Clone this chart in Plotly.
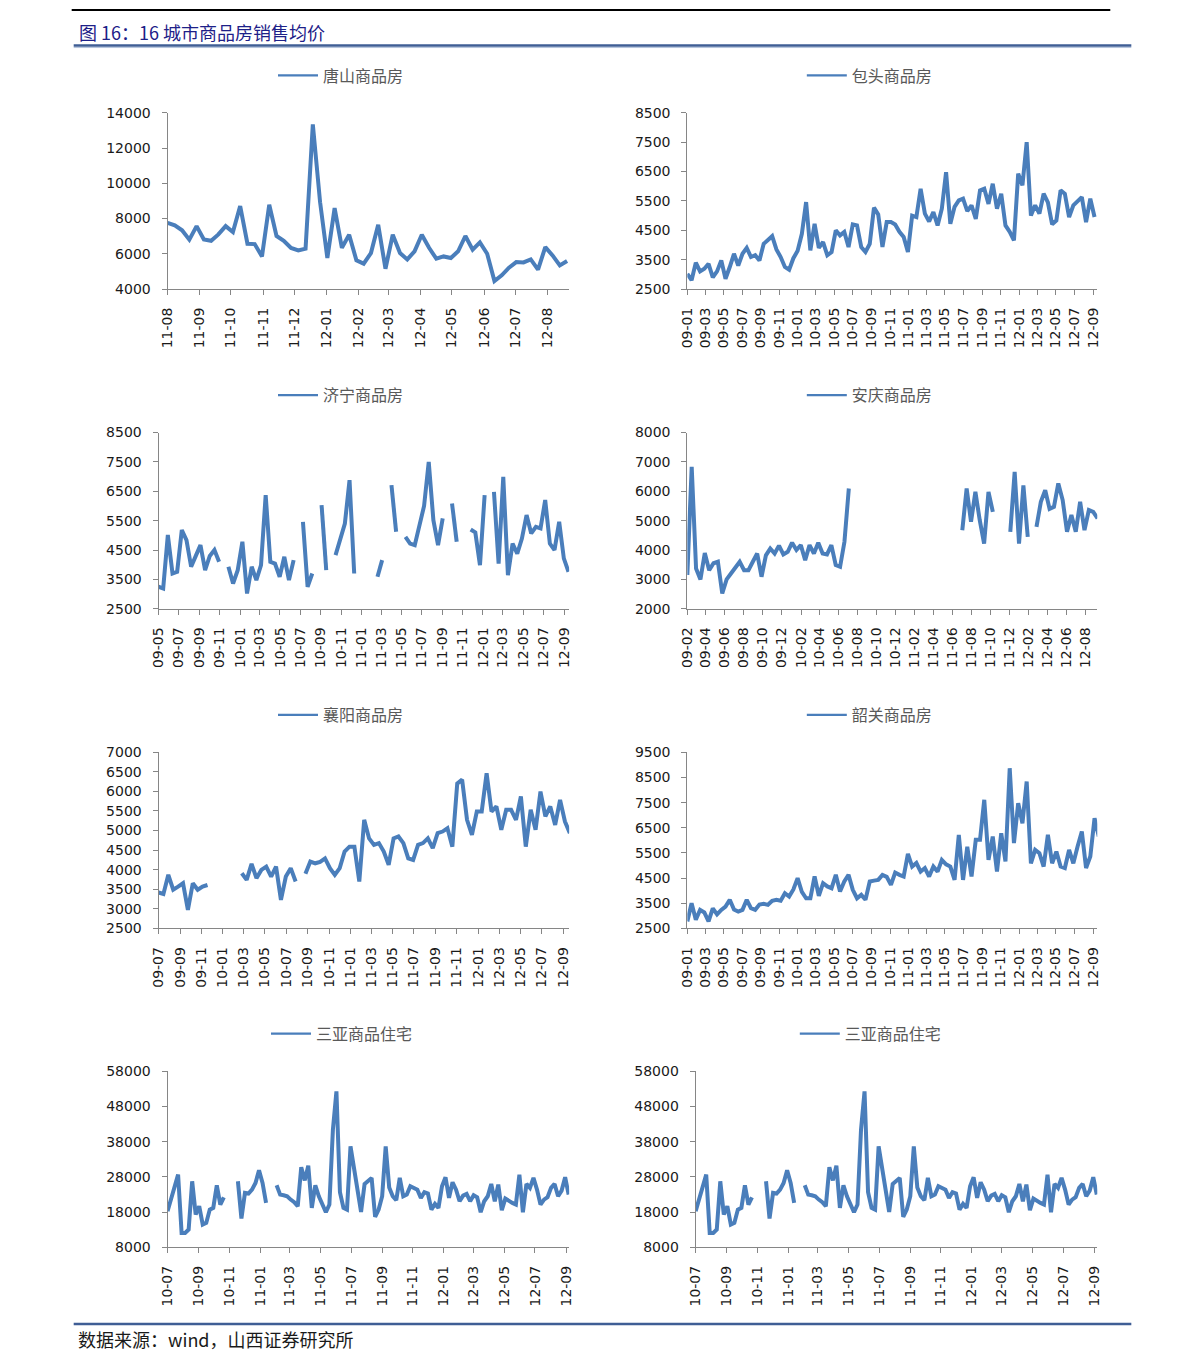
import pandas as pd
import plotly.graph_objects as go

# average selling price of commercial housing (yuan / m2)
# weekly series for 唐山 and 三亚, two-week samples for the longer series; None = no data
tangshan = [7760, 7610, 7330, 6800, 7570, 6820, 6740, 7100, 7570, 7230, 8710, 6570, 6550, 5850,
            8780, 7010, 6740, 6330, 6190, 6290, 13340, 8930, 5760, 8590, 6340, 7080, 5630, 5440,
            6040, 7650, 5150, 7080, 6040, 5680, 6140, 7080, 6340, 5720, 5850, 5760, 6140, 7010,
            6230, 6650, 6000, 4450, 4780, 5210, 5530, 5510, 5680, 5100, 6380, 5910, 5340, 5590]

baotou = [3020, 2800, 3400, 3100, 3190, 3360, 2900, 3100, 3475, 2850, 3250, 3700, 3300, 3700,
          3900, 3590, 3650, 3475, 4040, 4155, 4300, 3850, 3590, 3250, 3160, 3550, 3800, 4380,
          5460, 3815, 4720, 3900, 4100, 3650, 3760, 4500, 4325, 4440, 3930, 4700, 4665, 3930,
          3760, 4040, 5270, 5040, 3930, 4780, 4780, 4700, 4450, 4270, 3760, 5000, 4950, 5915,
          5065, 4800, 5120, 4665, 5235, 6480, 4720, 5300, 5515, 5575, 5150, 5350, 4890, 5860,
          5915, 5400, 6085, 5235, 5745, 4665, 4450, 4155, 6425, 6030, 7500, 5000, 5350, 5065,
          5745, 5450, 4700, 4835, 5860, 5745, 4950, 5350, 5515, 5630, 4780, 5575, 4950]

jining = [3250, 3190, 5010, 3700, 3760, 5180, 4835, 3930, 4300, 4665, 3815, 4300, 4500, 4100,
          None, 3930, 3360, 3815, 4780, 3020, 3930, 3475, 3985, 6370, 4100, 4040, 3590, 4270,
          3475, 4155, None, 5460, 3250, 3700, None, 6030, 3815, None, 4325, 4850, 5400, 6880,
          3700, None, None, None, None, 3590, 4155, None, 6710, 5120, None, 4950, 4720, 4665,
          5400, 6000, 7500, 5515, 4665, 5575, None, 6085, 4780, None, None, 5200, 5100, 3985,
          6370, None, 6480, 4040, 6990, 3645, 4720, 4380, 4890, 5690, 5065, 5290, 5235, 6200,
          4720, 4500, 5460, 4215, 3760]

anqing = [3150, 6830, 3370, 3000, 3900, 3315, 3550, 3600, 2520, 3000, 3200, 3400, 3600, 3315,
          3315, 3600, 3880, 3090, 3820, 4050, 3880, 4150, 3850, 3940, 4250, 4000, 4165, 3655,
          4165, 3880, 4250, 3880, 3850, 4165, 3490, 3430, 4280, 6095,
          None, None, None, None, None, None, None, None, None, None, None, None, None,
          None, None, None, None, None, None, None, None, None, None, None, None,
          4675, 6095, 4960, 5980, 5015, 4220, 5980, 5300, None, None, None, 4620, 6660, 4220,
          6200, 4450, None, 4790, 5640, 6040, 5400, 5470, 6265, 5700, 4620, 5190, 4620, 5640,
          4675, 5360, 5300, 5075]

xiangyang = [3420, 3380, 3870, 3490, 3570, 3655, 2975, 3655, 3490, 3570, 3610,
             None, None, None, None, None, None,
             3910, 3740, 4150, 3785, 3995, 4080, 3825, 4080, 3230, 3825, 4040, 3700, None,
             3900, 4210, 4165, 4200, 4290, 4040, 3870, 4040, 4465, 4590, 4590, 3700, 5275, 4800,
             4635, 4680, 4465, 4125, 4800, 4850, 4680, 4290, 4250, 4635, 4680, 4800, 4550, 4935,
             4975, 5060, 4590, 6200, 6300, 5275, 4890, 5485, 5485, 6465, 5485, 5615, 5020, 5530,
             5530, 5275, 5870, 4590, 5530, 5020, 5995, 5360, 5615, 5145, 5785, 5230, 4935]

shaoguan = [2780, 3500, 2850, 3240, 3135, 2780, 3300, 3060, 3240, 3370, 3640, 3250, 3175, 3240,
            3640, 3310, 3240, 3450, 3480, 3440, 3600, 3640, 3600, 3900, 3770, 4050, 4500, 3950,
            3700, 3700, 4565, 3800, 4300, 4170, 4100, 4630, 3970, 4365, 4630, 4035, 3700, 3835,
            3640, 4365, 4400, 4430, 4630, 4550, 4230, 4720, 4630, 4565, 5465, 4960, 5100, 4760,
            4900, 4565, 4960, 4760, 5225, 5050, 4960, 4430, 6220, 4430, 5750, 4565, 6020, 6020,
            7610, 5225, 6150, 4760, 6285, 5160, 8865, 5890, 7475, 6680, 8335, 5090, 5620, 5490,
            4960, 6220, 5090, 5555, 4960, 4900, 5620, 5090, 5755, 6350, 4900, 5360, 6880, 6150]

sanya = [18230, 21540, 24860, 28640, 12070, 12070, 13020, 26750, 17280, 19650, 14440, 14910,
         18700, 19170, 25610, 20120, 22200, None, None, None, 26750, 16140, 23440, 23250,
         24380, 26280, 29880, 26280, 20600, None, None, 25610, 22960, 22770, 22500, 21540,
         20780, 19650, 30730, 27000, 31210, 19170, 25610, 22490, 20000, 17940, 20120, 41430,
         52320, 23630, 19170, 18700, 36690, 30540, 23440, 18040, 25990, 26940, 27700, 16620,
         18700, 22500, 36690, 25000, 22500, 21350, 27700, 22490, 22960, 25330, 24860, 24380,
         22020, 23630, 23250, 18700, 20310, 19170, 25330, 27890, 22020, 26470, 24380, 21070,
         22680, 23150, 21070, 22770, 22200, 17940, 21070, 22490, 25990, 21070, 25800, 18510,
         21820, 21070, 20600, 20120, 28640, 17940, 25990, 24860, 27700, 24380, 20120, 21540,
         22200, 24860, 25990, 22490, 24100, 27890, 22960]

names = ["唐山商品房", "包头商品房", "济宁商品房", "安庆商品房",
         "襄阳商品房", "韶关商品房", "三亚商品住宅", "三亚商品住宅"]
series = [tangshan, baotou, jining, anqing, xiangyang, shaoguan, sanya, sanya]
starts = ["2011-08-01", "2009-01-01", "2009-05-01", "2009-02-01",
          "2009-07-01", "2009-01-01", "2010-07-01", "2010-07-01"]
steps = ["7D", "14D", "14D", "14D", "14D", "14D", "7D", "7D"]
x_ends = ["2012-08-22", "2012-09-15", "2012-09-16", "2012-09-08",
          "2012-09-17", "2012-09-15", "2012-09-07", "2012-09-07"]
x_dticks = ["M1", "M2", "M2", "M2", "M2", "M2", "M2", "M2"]
y_ranges = [(4000, 14000, 2000), (2500, 8500, 1000), (2500, 8500, 1000), (2000, 8000, 1000),
            (2500, 7000, 500), (2500, 9500, 1000), (8000, 58000, 10000), (8000, 58000, 10000)]

W, H = 1191, 1370
# the snapshot shows the page slightly shrunk about its centre; pre-compensate
SX, SY = 1191 / 1206, 1370 / 1385
BLUE = "#4A7EBB"
AXIS = "#868686"
CJK = "Noto Sans CJK SC"

# plot areas in reference pixels: left, right, top, bottom
boxes = [(166.7, 567.7, 112.3, 288.7), (685.7, 1095, 112.3, 288.7),
         (157.7, 567.7, 432.3, 608.7), (685.7, 1095, 432.3, 608.7),
         (157.7, 567.7, 752.3, 928.7), (685.7, 1095, 752.3, 928.7),
         (166.7, 567.7, 1071.7, 1247.7), (694, 1095, 1071.7, 1247.7)]
# legend line start (px) and legend row centre (px)
legend_pos = [(280, 75), (808, 75), (280, 395), (808, 395),
              (280, 715), (808, 715), (273, 1034), (801, 1034)]


def px(x):
    return (W / 2 + (x - W / 2) / SX) / W


def py(y):
    return 1 - (H / 2 + (y - H / 2) / SY) / H


fig = go.Figure()
layout = dict(width=W, height=H, margin=dict(l=0, r=0, t=0, b=0),
              paper_bgcolor="white", plot_bgcolor="white", showlegend=True)

for i in range(8):
    n = i + 1
    xa = "x" if n == 1 else f"x{n}"
    ya = "y" if n == 1 else f"y{n}"
    lg = "legend" if n == 1 else f"legend{n}"
    dates = pd.date_range(starts[i], periods=len(series[i]), freq=steps[i])
    fig.add_trace(go.Scatter(x=dates, y=series[i], mode="lines", xaxis=xa, yaxis=ya,
                             line=dict(color=BLUE, width=4), showlegend=False,
                             connectgaps=False, hoverinfo="skip"))
    fig.add_trace(go.Scatter(x=[None], y=[None], mode="lines", xaxis=xa, yaxis=ya,
                             line=dict(color=BLUE, width=2.2), name=names[i], legend=lg))
    l, r, t, b = boxes[i]
    y0, y1, ydt = y_ranges[i]
    layout["xaxis" if n == 1 else f"xaxis{n}"] = dict(
        domain=[px(l), px(r)], anchor=ya, type="date",
        range=[starts[i], x_ends[i]], tick0=starts[i], dtick=x_dticks[i],
        tickformat="%y-%m", tickangle=-90, ticks="outside", ticklen=5,
        tickcolor=AXIS, showline=True, linecolor=AXIS, linewidth=1,
        showgrid=False, zeroline=False, ticklabelstandoff=7,
        tickfont=dict(family="DejaVu Sans", size=14, color="#1a1a1a"))
    layout["yaxis" if n == 1 else f"yaxis{n}"] = dict(
        domain=[py(b), py(t)], anchor=xa, range=[y0, y1], dtick=ydt, tick0=y0,
        tickformat="d", ticks="outside", ticklen=5, tickcolor=AXIS,
        showline=True, linecolor=AXIS, linewidth=1, showgrid=False, zeroline=False,
        ticklabelstandoff=8,
        tickfont=dict(family="DejaVu Sans", size=14, color="#1a1a1a"))
    lx, ly = legend_pos[i]
    layout[lg] = dict(x=px(lx - 8), y=py(ly), xanchor="left", yanchor="middle",
                      bgcolor="rgba(0,0,0,0)", itemwidth=40,
                      font=dict(family=CJK, size=16, color="#595959"))

fig.update_layout(**layout)

# page decoration: header rule, figure caption, rules and source note
fig.add_shape(type="line", xref="paper", yref="paper", x0=px(71), x1=px(1108),
              y0=py(9.5), y1=py(9.5), line=dict(color="black", width=2))
fig.add_shape(type="line", xref="paper", yref="paper", x0=px(73), x1=px(1129),
              y0=py(45), y1=py(45), line=dict(color="#3F5E95", width=2.5))
fig.add_shape(type="line", xref="paper", yref="paper", x0=px(73), x1=px(1129),
              y0=py(47), y1=py(47), line=dict(color="#B4C4DC", width=1))
fig.add_shape(type="line", xref="paper", yref="paper", x0=px(73), x1=px(1129),
              y0=py(1324.5), y1=py(1324.5), line=dict(color="#3F5E95", width=2.5))
fig.add_annotation(x=px(76), y=py(31.5), xref="paper", yref="paper", showarrow=False,
                   xanchor="left", yanchor="middle", text="图 16：16 城市商品房销售均价",
                   font=dict(family=CJK, size=18, color="#1D2088"))
fig.add_annotation(x=px(75), y=py(1340), xref="paper", yref="paper", showarrow=False,
                   xanchor="left", yanchor="middle", text="数据来源：wind，山西证券研究所",
                   font=dict(family=CJK, size=18, color="#1a1a1a"))

fig.write_html("out.html", config={"displayModeBar": False},
               post_script="document.body.style.margin = '0';")
